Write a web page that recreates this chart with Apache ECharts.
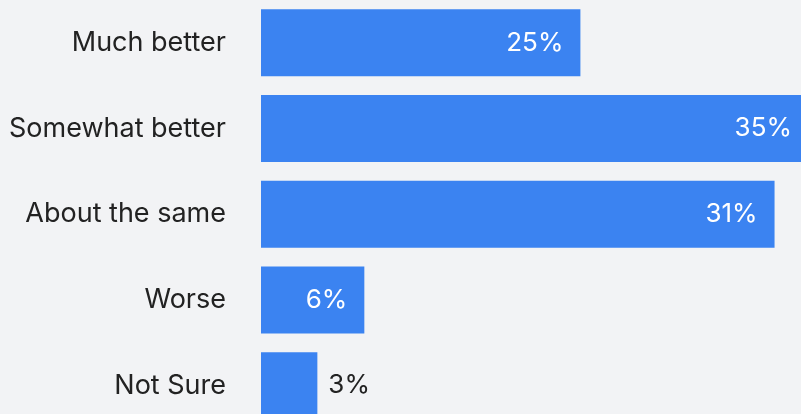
<!DOCTYPE html>
<html>
<head>
<meta charset="utf-8">
<script src="https://cdn.jsdelivr.net/npm/echarts@6/dist/echarts.min.js"></script>
<style>
  html, body { margin: 0; padding: 0; background: #f2f3f5; }
  #chart { width: 801px; height: 414px; }
</style>
</head>
<body>
<div id="chart"></div>
<script>
// Categories (top to bottom)
const categories = ['Much better', 'Somewhat better', 'About the same', 'Worse', 'Not Sure'];
// Bar lengths (axis units, Somewhat better = 35)
const barValues = [20.4, 35, 32.8, 6.6, 3.6];
// Value labels printed on the bars
const valueLabels = ['25%', '35%', '31%', '6%', '3%'];

const BLUE = '#3b83f1';
const TEXT = '#222222';
const FONT = 'Inter, "Noto Sans", sans-serif';

const chart = echarts.init(document.getElementById('chart'), null, { renderer: 'canvas' });

const data = barValues.map((v, i) => {
  const outside = v < 5;
  return {
    value: v,
    label: outside
      ? { position: 'right', distance: 11, color: TEXT }
      : { position: 'insideRight', distance: 17, color: '#ffffff' }
  };
});

chart.setOption({
  backgroundColor: '#f2f3f5',
  animation: false,
  grid: {
    left: 261, top: 0, width: 548, height: 428.5,
    containLabel: false,
    outerBoundsMode: 'none'
  },
  xAxis: {
    type: 'value',
    min: 0,
    max: 35,
    show: false
  },
  yAxis: {
    type: 'category',
    data: categories,
    inverse: true,
    axisLine: { show: false },
    axisTick: { show: false },
    splitLine: { show: false },
    axisLabel: {
      margin: 35,
      fontSize: 27,
      fontFamily: FONT,
      color: TEXT
    }
  },
  series: [{
    type: 'bar',
    data: data,
    barCategoryGap: '21.8%',
    itemStyle: { color: BLUE },
    label: {
      show: true,
      fontSize: 26,
      fontFamily: FONT,
      formatter: p => valueLabels[p.dataIndex]
    }
  }]
});
</script>
</body>
</html>
